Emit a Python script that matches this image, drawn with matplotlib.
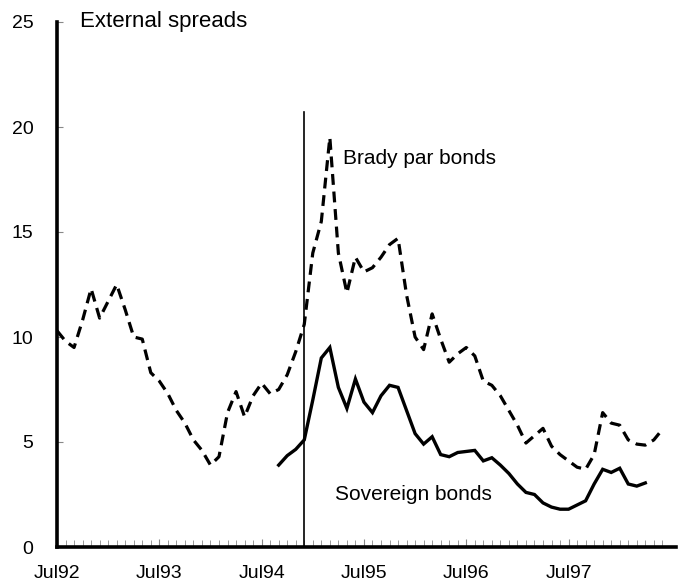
import matplotlib
matplotlib.use("Agg")
import matplotlib.pyplot as plt
import numpy as np

plt.rcParams['font.family'] = ['Liberation Sans', 'DejaVu Sans']

# Monthly data, month index 0 = Jul 1992
brady_start = 0
brady = [10.3, 9.8, 9.5, 10.8, 12.3, 10.9, 11.7, 12.5, 11.3, 10.0,
         9.9, 8.3, 7.9, 7.3, 6.5, 5.9, 5.1, 4.6, 3.9, 4.3,
         6.4, 7.4, 6.2, 7.2, 7.8, 7.3, 7.5, 8.2, 9.3, 10.6,
         14.0, 15.5, 19.5, 14.0, 12.1, 13.8, 13.1, 13.3, 13.8, 14.4,
         14.7, 12.0, 10.0, 9.4, 11.1, 9.9, 8.8, 9.2, 9.5, 9.1,
         7.9, 7.7, 7.2, 6.5, 5.8, 4.95, 5.3, 5.65, 4.8, 4.4,
         4.1, 3.8, 3.7, 4.4, 6.4, 5.9, 5.8, 5.1, 4.9, 4.85,
         5.1, 5.6]

sovereign_start = 26
sovereign = [3.9, 4.35, 4.65, 5.1, 7.0, 9.0, 9.5, 7.6, 6.6, 8.0,
             6.9, 6.4, 7.2, 7.7, 7.6, 6.5, 5.4, 4.9, 5.25, 4.4,
             4.3, 4.5, 4.55, 4.6, 4.1, 4.25, 3.9, 3.5, 3.0, 2.6,
             2.5, 2.1, 1.9, 1.8, 1.8, 2.0, 2.2, 3.0, 3.7, 3.55,
             3.75, 3.0, 2.9, 3.05]

event_month = 29          # Dec 1994
event_top = 20.7

xtick_months = [0, 12, 24, 36, 48, 60]
xtick_labels = ["Jul92", "Jul93", "Jul94", "Jul95", "Jul96", "Jul97"]
yticks = [0, 5, 10, 15, 20, 25]

fig = plt.figure(figsize=(6.78, 5.85), dpi=100)
ax = fig.add_axes([57/678, 38/585, (676-57)/678, (547-22)/585])

xb = np.arange(len(brady)) + brady_start
xs = np.arange(len(sovereign)) + sovereign_start

ax.plot(xb, brady, color='black', lw=2.3, linestyle=(0, (3.4, 2.1)),
        solid_joinstyle='miter')
ax.plot(xs, sovereign, color='black', lw=2.4, solid_joinstyle='miter')
ax.plot([event_month, event_month], [0, event_top], color='black', lw=1.2)

ax.set_xlim(0, 72.6)
ax.set_ylim(0, 25)

for s in ['top', 'right']:
    ax.spines[s].set_visible(False)
ax.spines['left'].set_linewidth(2.6)
ax.spines['bottom'].set_linewidth(2.6)

ax.set_yticks(yticks)
ax.set_yticklabels([str(v) for v in yticks], fontsize=14)
ax.tick_params(axis='y', direction='in', length=4, width=0.8, color='#888888', pad=17)

ax.set_xticks(xtick_months)
ax.set_xticklabels(xtick_labels, fontsize=14)
ax.set_xticks(np.arange(0, 72), minor=True)
ax.tick_params(axis='x', which='major', direction='in', length=6, width=0.8,
               color='#888888', pad=13)
ax.tick_params(axis='x', which='minor', direction='in', length=5, width=0.7,
               color='#999999')

ax.text(2.7, 25, "External spreads", fontsize=16, va='center', ha='left')
ax.text(33.6, 18.5, "Brady par bonds", fontsize=15, va='center', ha='left')
ax.text(32.6, 2.5, "Sovereign bonds", fontsize=15, va='center', ha='left')

fig.savefig("out.png", dpi=100)
